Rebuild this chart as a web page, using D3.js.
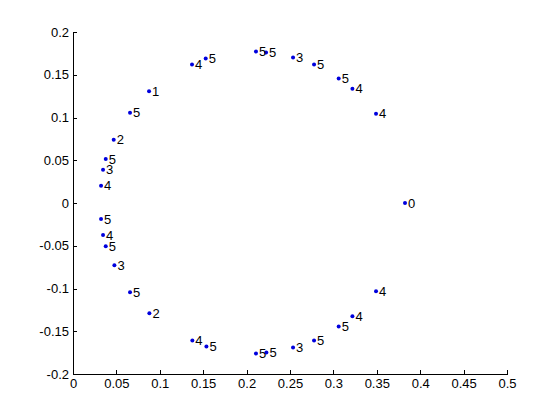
<!DOCTYPE html>
<html>
<head>
<meta charset="utf-8">
<script src="https://cdn.jsdelivr.net/npm/d3@7"></script>
<style>
  html, body { margin: 0; padding: 0; background: #fff; }
  svg { display: block; }
  text { font-family: "Liberation Sans", Arial, Helvetica, sans-serif; }
</style>
</head>
<body>
<svg id="chart" width="560" height="420"></svg>
<script>
// Point coordinates
const xValues = [
  0.3825, 0.3491, 0.3219, 0.3061, 0.2777, 0.2535, 0.2224, 0.2108,
  0.1529, 0.1371, 0.0876, 0.0657, 0.0469, 0.0377, 0.0346, 0.0323,
  0.0323, 0.0346, 0.0377, 0.0477, 0.0657, 0.0880, 0.1375, 0.1537,
  0.2108, 0.2228, 0.2535, 0.2777, 0.3061, 0.3219, 0.3491
];
const yValues = [
  0.0000, 0.1044, 0.1337, 0.1455, 0.1619, 0.1701, 0.1760, 0.1771,
  0.1689, 0.1619, 0.1306, 0.1056, 0.0739, 0.0516, 0.0390, 0.0203,
  -0.0188, -0.0375, -0.0505, -0.0728, -0.1044, -0.1290, -0.1607, -0.1677,
  -0.1760, -0.1748, -0.1690, -0.1607, -0.1443, -0.1326, -0.1032
];
const pointLabels = [
  "0", "4", "4", "5", "5", "3", "5", "5",
  "5", "4", "1", "5", "2", "5", "3", "4",
  "5", "4", "5", "3", "5", "2", "4", "5",
  "5", "5", "3", "5", "5", "4", "4"
];
const xTicks = [0, 0.05, 0.1, 0.15, 0.2, 0.25, 0.3, 0.35, 0.4, 0.45, 0.5];
const xTickLabels = ["0", "0.05", "0.1", "0.15", "0.2", "0.25", "0.3", "0.35", "0.4", "0.45", "0.5"];
const yTicks = [-0.2, -0.15, -0.1, -0.05, 0, 0.05, 0.1, 0.15, 0.2];
const yTickLabels = ["-0.2", "-0.15", "-0.1", "-0.05", "0", "0.05", "0.1", "0.15", "0.2"];

const svg = d3.select("#chart");
const W = 560, H = 420;
const mLeft = 73, mRight = 507, mTop = 32, mBottom = 374;

svg.append("rect").attr("width", W).attr("height", H).attr("fill", "#fff");

const x = d3.scaleLinear().domain([0, 0.5]).range([mLeft, mRight]);
const y = d3.scaleLinear().domain([-0.2, 0.2]).range([mBottom, mTop]);

const xAxis = d3.axisBottom(x)
  .tickValues(xTicks)
  .tickFormat((d, i) => xTickLabels[i])
  .tickSizeInner(-4).tickSizeOuter(0).tickPadding(5);
const yAxis = d3.axisLeft(y)
  .tickValues(yTicks)
  .tickFormat((d, i) => yTickLabels[i])
  .tickSizeInner(-4).tickSizeOuter(0).tickPadding(4);

const gx = svg.append("g").attr("transform", `translate(0,${mBottom})`).call(xAxis);
const gy = svg.append("g").attr("transform", `translate(${mLeft},0)`).call(yAxis);

[gx, gy].forEach(g => {
  g.select(".domain").attr("stroke", "#000").attr("stroke-width", 1).attr("shape-rendering", "crispEdges");
  g.selectAll(".tick line").attr("stroke", "#000").attr("shape-rendering", "crispEdges");
  g.selectAll(".tick text").attr("fill", "#000").style("font-size", "13px")
    .style("font-family", "'Liberation Sans', Arial, sans-serif");
});

const data = xValues.map((v, i) => ({ x: v, y: yValues[i], label: pointLabels[i] }));

const pts = svg.append("g");
pts.selectAll("circle").data(data).enter().append("circle")
  .attr("cx", d => x(d.x))
  .attr("cy", d => y(d.y))
  .attr("r", 2)
  .attr("fill", "#0000dd");

pts.selectAll("text").data(data).enter().append("text")
  .attr("x", d => x(d.x) + 3)
  .attr("y", d => y(d.y))
  .attr("dy", "0.36em")
  .attr("fill", "#000")
  .style("font-size", "13px")
  .text(d => d.label);
</script>
</body>
</html>
